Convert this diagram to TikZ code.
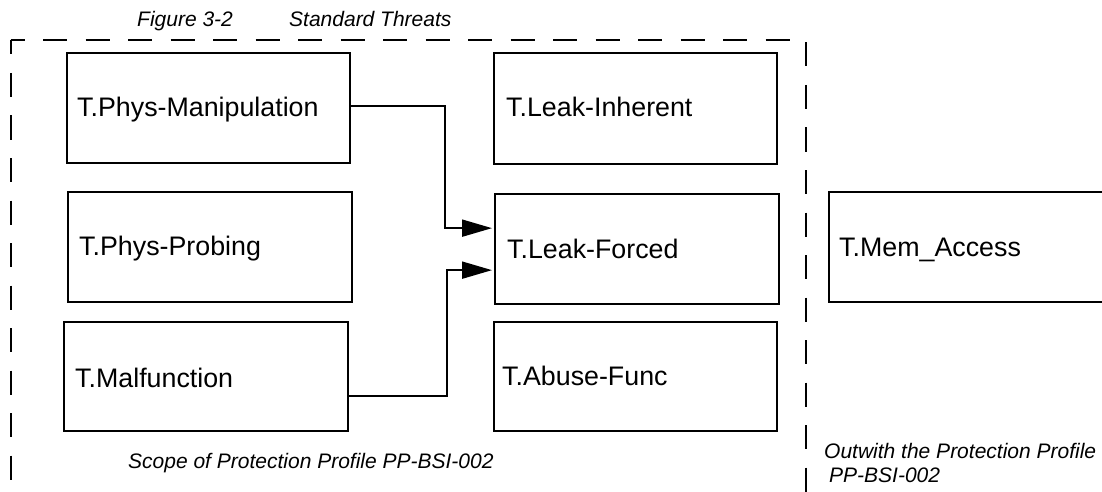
\documentclass[tikz,border=0pt]{standalone}
\usepackage{fontspec}
\setmainfont{Liberation Sans}
\usetikzlibrary{arrows.meta}
\tikzset{
  box/.style={draw, line width=2.3pt, rectangle, inner sep=0pt, anchor=north west},
  lbl/.style={anchor=base west, inner sep=0pt, font=\fontsize{26.8pt}{30pt}\selectfont},
  itlbl/.style={anchor=base west, inner sep=0pt, font=\fontsize{21pt}{25pt}\selectfont\itshape},
  conn/.style={line width=2pt, -{Triangle[length=30pt,width=17pt]}, shorten >=2pt},
  scopeline/.style={line width=2pt, dash pattern=on 24pt off 18.5pt, dash phase=10pt}
}
\begin{document}
\begin{tikzpicture}[x=1pt,y=-1pt]
\useasboundingbox (0,0) rectangle (1102,492);
\clip (0,0) rectangle (1102,492);
\fill[white] (0,0) rectangle (1102,492);
% scope frame
\coordinate (ftl) at (10.5,40.5);
\coordinate (fbl) at (10.5,500);
\coordinate (ftr) at (806,40.5);
\coordinate (fbr) at (806,500);
\draw[scopeline] (ftl) -- (fbl);
\draw[scopeline] (ftl) -- (ftr) -- (fbr);
% titles
\node[itlbl] (fig) at (137,27) {Figure 3-2};
\node[itlbl] (std) at (289,27) {Standard Threats};
\node[itlbl] (scp) at (128,468) {Scope of Protection Profile PP-BSI-002};
\node[itlbl] (out1) at (824,458) {Outwith the Protection Profile};
\node[itlbl] (out2) at (829,482) {PP-BSI-002};
% boxes
\node[box, minimum width=283pt, minimum height=110pt] (pm) at (66,52) {};
\node[box, minimum width=284pt, minimum height=110pt] (pp) at (67,191) {};
\node[box, minimum width=284pt, minimum height=109pt] (mf) at (63,321) {};
\node[box, minimum width=283pt, minimum height=111pt] (li) at (493,52) {};
\node[box, minimum width=284pt, minimum height=110pt] (lf) at (494,193) {};
\node[box, minimum width=283pt, minimum height=109pt] (af) at (493,321) {};
\node[box, minimum width=320pt, minimum height=110pt] (ma) at (828,191) {};
% labels
\node[lbl] (tpm) at (77,117) {T.Phys-Manipulation};
\node[lbl] (tpp) at (79,255) {T.Phys-Probing};
\node[lbl] (tmf) at (75,387) {T.Malfunction};
\node[lbl] (tli) at (506,117) {T.Leak-Inherent};
\node[lbl] (tlf) at (507,258) {T.Leak-Forced};
\node[lbl] (taf) at (502,385) {T.Abuse-Func};
\node[lbl] (tma) at (839,256) {T.Mem\_Access};
% connectors
\draw[conn] ([yshift=2pt]pm.east) -- ++(94,0) |- ([yshift=21pt]lf.west);
\draw[conn] ([yshift=-19.5pt]mf.east) -- ++(98,0) |- ([yshift=-21pt]lf.west);
\end{tikzpicture}
\end{document}
